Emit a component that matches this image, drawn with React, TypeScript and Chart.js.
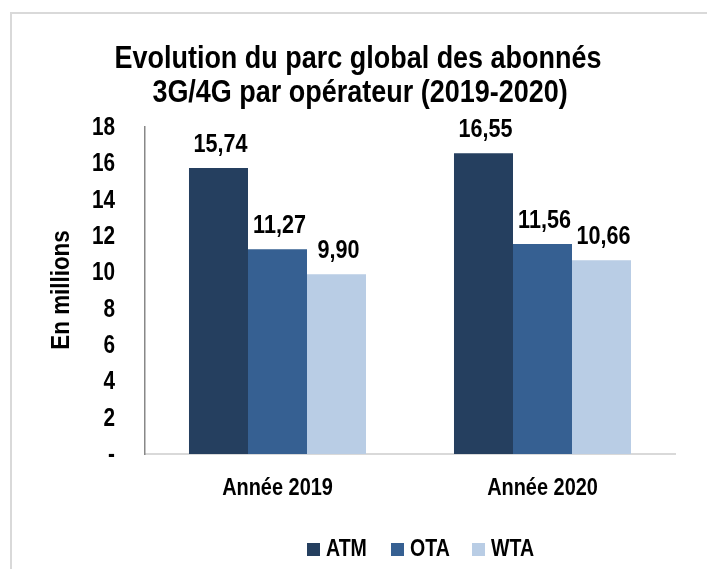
import React, { useEffect, useRef } from "react";
import { Chart, registerables } from "chart.js";

Chart.register(...registerables);

const categories = ["Année 2019", "Année 2020"];
const seriesNames = ["ATM", "OTA", "WTA"];
const atmValues = [15.74, 16.55];
const otaValues = [11.27, 11.56];
const wtaValues = [9.9, 10.66];
const seriesColors = ["#253F5F", "#366092", "#B9CDE5"];
const yTickValues = [0, 2, 4, 6, 8, 10, 12, 14, 16, 18];
const titleLines = ["Evolution du parc global des abonnés", "3G/4G par opérateur (2019-2020)"];
const yAxisTitle = "En millions";

const FONT = '"Liberation Sans", Arial, sans-serif';

const fmt = (v: number) => v.toFixed(2).replace(".", ",");
const tickLabel = (v: number) => (v === 0 ? "-" : String(v));

function drawText(ctx: any, text: string, x: number, y: number, size: number, sx: number, align: string, baseline: string) {
  ctx.save();
  ctx.translate(x, y);
  ctx.scale(sx, 1);
  ctx.font = `bold ${size}px ${FONT}`;
  ctx.textAlign = align;
  ctx.textBaseline = baseline;
  ctx.fillText(text, 0, 0);
  ctx.restore();
}

const decorPlugin = {
  id: "decor",
  beforeDraw(chart: any) {
    const ctx = chart.ctx;
    ctx.save();
    ctx.fillStyle = "#ffffff";
    ctx.fillRect(0, 0, chart.width, chart.height);
    ctx.strokeStyle = "#d9d9d9";
    ctx.lineWidth = 2;
    ctx.beginPath();
    ctx.moveTo(11, chart.height + 2);
    ctx.lineTo(11, 13);
    ctx.lineTo(chart.width + 2, 13);
    ctx.stroke();
    ctx.restore();
  },
  afterDraw(chart: any) {
    const ctx = chart.ctx;
    ctx.save();
    ctx.fillStyle = "#000000";
    // title
    drawText(ctx, titleLines[0], 358, 68, 31, 0.87, "center", "alphabetic");
    drawText(ctx, titleLines[1], 360, 102, 31, 0.87, "center", "alphabetic");
    // y title
    ctx.save();
    ctx.translate(62, 290);
    ctx.rotate(-Math.PI / 2);
    drawText(ctx, yAxisTitle, 0, 0, 26, 0.86, "center", "middle");
    ctx.restore();
    // y ticks
    const ys = chart.scales.y;
    yTickValues.forEach((v) => {
      drawText(ctx, tickLabel(v), 115, ys.getPixelForValue(v) + 1, 25, 0.83, "right", "middle");
    });
    // x labels
    const xs = chart.scales.x;
    categories.forEach((c, i) => {
      drawText(ctx, c, xs.getPixelForValue(i), 488, 24, 0.83, "center", "middle");
    });
    // data labels
    chart.data.datasets.forEach((ds: any, i: number) => {
      const meta = chart.getDatasetMeta(i);
      meta.data.forEach((bar: any, j: number) => {
        drawText(ctx, fmt(ds.data[j]), bar.x + 2, bar.y - 16, 26, 0.83, "center", "alphabetic");
      });
    });
    // legend
    const legendX = [307, 391, 472];
    seriesNames.forEach((name, i) => {
      ctx.fillStyle = seriesColors[i];
      ctx.fillRect(legendX[i], 543, 13, 13);
      ctx.fillStyle = "#000000";
      drawText(ctx, name, legendX[i] + 19, 550, 23, 0.85, "left", "middle");
    });
    ctx.restore();
  },
};

export default function App() {
  const ref = useRef<HTMLCanvasElement | null>(null);
  useEffect(() => {
    if (!ref.current) return;
    const chart = new Chart(ref.current, {
      type: "bar",
      data: {
        labels: categories,
        datasets: [atmValues, otaValues, wtaValues].map((d, i) => ({
          label: seriesNames[i],
          data: d,
          backgroundColor: seriesColors[i],
          borderWidth: 0,
          categoryPercentage: 0.668,
          barPercentage: 1,
        })),
      },
      options: {
        animation: false,
        responsive: false,
        maintainAspectRatio: false,
        layout: { padding: { top: 127, right: 32, left: 0, bottom: 0 } },
        plugins: { legend: { display: false }, title: { display: false }, tooltip: { enabled: false } },
        scales: {
          x: {
            grid: { display: false, drawTicks: false },
            border: { display: true, color: "#d9d9d9", width: 2 },
            ticks: { display: false },
            afterFit: (s: any) => { s.height = 115; },
          },
          y: {
            min: 0,
            max: 18,
            grid: { display: false, drawTicks: false },
            border: { display: true, color: "#888888", width: 1.5 },
            ticks: { display: false, stepSize: 2 },
            afterFit: (s: any) => { s.width = 145; },
          },
        },
      },
      plugins: [decorPlugin],
    });
    return () => chart.destroy();
  }, []);
  return (
    <div style={{ position: "fixed", left: 0, top: 0, width: 707, height: 569, background: "#fff" }}>
      <canvas ref={ref} width={707} height={569} style={{ display: "block" }} />
    </div>
  );
}
